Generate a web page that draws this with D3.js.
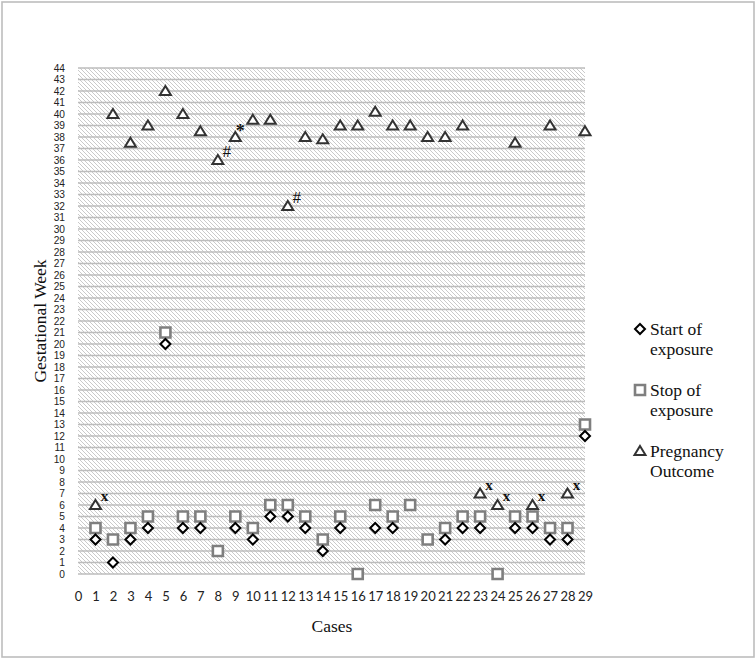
<!DOCTYPE html>
<html>
<head>
<meta charset="utf-8">
<script src="https://cdn.jsdelivr.net/npm/d3@7/dist/d3.min.js"></script>
<style>
  html, body { margin: 0; padding: 0; background: #fff; }
  svg { display: block; }
</style>
</head>
<body>
<svg id="chart" width="756" height="664"></svg>
<script>
// ---- Data ----
const cases = d3.range(1, 30);
const startExposure = [3, 1, 3, 4, 20, 4, 4, null, 4, 3, 5, 5, 4, 2, 4, null, 4, 4, null, null, 3, 4, 4, null, 4, 4, 3, 3, 12];
const stopExposure  = [4, 3, 4, 5, 21, 5, 5, 2, 5, 4, 6, 6, 5, 3, 5, 0, 6, 5, 6, 3, 4, 5, 5, 0, 5, 5, 4, 4, 13];
const pregnancyOutcome = [6, 40, 37.5, 39, 42, 40, 38.5, 36, 38, 39.5, 39.5, 32, 38, 37.8, 39, 39, 40.2, 39, 39, 38, 38, 39, 7, 6, 37.5, 6, 39, 7, 38.5];
const annotCases  = [1, 8, 9, 12, 23, 24, 26, 28];
const annotLabels = ["x", "#", "*", "#", "x", "x", "x", "x"];
const yTicks = d3.range(0, 45);
const xTicks = d3.range(0, 30);
const seriesNames = [["Start of", "exposure"], ["Stop of", "exposure"], ["Pregnancy", "Outcome"]];

// ---- Layout ----
const svg = d3.select("#chart");
const x = d3.scaleLinear().domain([0, 29]).range([78, 585]);
const y = d3.scaleLinear().domain([0, 44]).range([574, 68]);

// outer frame
svg.append("rect").attr("x", 2).attr("y", 2).attr("width", 752).attr("height", 655)
  .attr("fill", "#fff").attr("stroke", "#bdbdbd").attr("stroke-width", 1.6);

// hatch pattern
const defs = svg.append("defs");
const pat = defs.append("pattern").attr("id", "hatch").attr("patternUnits", "userSpaceOnUse")
  .attr("width", 4).attr("height", 4);
pat.append("rect").attr("width", 4).attr("height", 4).attr("fill", "#fff");
pat.append("path").attr("d", "M-1,-1 L5,5 M-1,3 L1,5 M3,-1 L5,1")
  .attr("stroke", "#c4c4c4").attr("stroke-width", 0.9);

const [x0, x1] = x.range();
const [yb, yt] = y.range();
svg.append("rect").attr("x", x0).attr("y", yt).attr("width", x1 - x0).attr("height", yb - yt)
  .attr("fill", "url(#hatch)");

// horizontal gridlines
svg.append("g").selectAll("line").data(yTicks).join("line")
  .attr("x1", x0).attr("x2", x1)
  .attr("y1", d => y(d)).attr("y2", d => y(d))
  .attr("stroke", "#bcbcbc").attr("stroke-width", 1.4);

// y axis labels
const yAxis = d3.axisLeft(y).tickValues(yTicks).tickSize(0).tickPadding(13).tickFormat(d3.format("d"));
const gy = svg.append("g").attr("transform", `translate(${x0},0)`).call(yAxis);
gy.select(".domain").remove();
gy.selectAll("text").attr("font-family", "'Liberation Sans', Arial, sans-serif").attr("font-size", 10.2).attr("fill", "#222");

// x axis labels
const xAxis = d3.axisBottom(x).tickValues(xTicks).tickSize(0).tickPadding(18).tickFormat(d3.format("d"));
const gx = svg.append("g").attr("transform", `translate(0,${yb})`).call(xAxis);
gx.select(".domain").remove();
gx.selectAll("text").attr("font-family", "Lato, 'Open Sans', sans-serif").attr("font-size", 13).attr("fill", "#222");

// axis titles
svg.append("text").attr("x", 332).attr("y", 632).attr("text-anchor", "middle")
  .attr("font-family", "'Liberation Serif', 'Times New Roman', serif").attr("font-size", 17.5).attr("fill", "#111")
  .text("Cases");
svg.append("text").attr("transform", `translate(46,${(yt + yb) / 2}) rotate(-90)`).attr("text-anchor", "middle")
  .attr("font-family", "'Liberation Serif', 'Times New Roman', serif").attr("font-size", 17.5).attr("fill", "#111")
  .text("Gestational Week");

// marker shapes
const diamondPath = "M0,-5 L5,0 L0,5 L-5,0 Z";
const squarePath = "M-5,-5 L5,-5 L5,5 L-5,5 Z";
const trianglePath = "M0,-5 L5.5,4 L-5.5,4 Z";

function drawSeries(values, path, stroke, sw) {
  const pts = cases.map((c, i) => ({ c, v: values[i] })).filter(d => d.v !== null);
  svg.append("g").selectAll("path").data(pts).join("path")
    .attr("d", path)
    .attr("transform", d => `translate(${x(d.c)},${y(d.v)})`)
    .attr("fill", "#fff").attr("stroke", stroke).attr("stroke-width", sw)
    .attr("stroke-linejoin", "miter");
}
drawSeries(pregnancyOutcome, trianglePath, "#333", 2);
drawSeries(stopExposure, squarePath, "#7f7f7f", 2.6);
drawSeries(startExposure, diamondPath, "#000", 2);

// annotations
svg.append("g").selectAll("text").data(annotCases.map((c, i) => ({ c, t: annotLabels[i], v: pregnancyOutcome[c - 1] })))
  .join("text")
  .attr("x", d => x(d.c) + (d.t === "*" ? 5 : 9))
  .attr("y", d => y(d.v) + (d.t === "x" ? -4 : (d.t === "#" ? -3 : 0)))
  .attr("text-anchor", "middle")
  .attr("font-family", "'Liberation Serif', 'Times New Roman', serif")
  .attr("font-weight", d => d.t === "#" ? "normal" : "bold")
  .attr("font-size", d => d.t === "#" ? 17 : (d.t === "*" ? 18 : 15))
  .attr("fill", "#111")
  .text(d => d.t);

// legend
const legendMarkers = [diamondPath, squarePath, trianglePath];
const legendStroke = ["#000", "#7f7f7f", "#333"];
const legendSW = [2, 2.6, 2];
const legendY = [329, 390, 451];
const lg = svg.append("g");
seriesNames.forEach((lines, i) => {
  lg.append("path").attr("d", legendMarkers[i])
    .attr("transform", `translate(640,${legendY[i]})`)
    .attr("fill", "#fff").attr("stroke", legendStroke[i]).attr("stroke-width", legendSW[i]);
  const t = lg.append("text").attr("x", 650).attr("y", legendY[i] + 6)
    .attr("font-family", "'Liberation Serif', 'Times New Roman', serif").attr("font-size", 17.5).attr("fill", "#111");
  lines.forEach((ln, j) => {
    t.append("tspan").attr("x", 650).attr("dy", j === 0 ? 0 : 20).text(ln);
  });
});
</script>
</body>
</html>
